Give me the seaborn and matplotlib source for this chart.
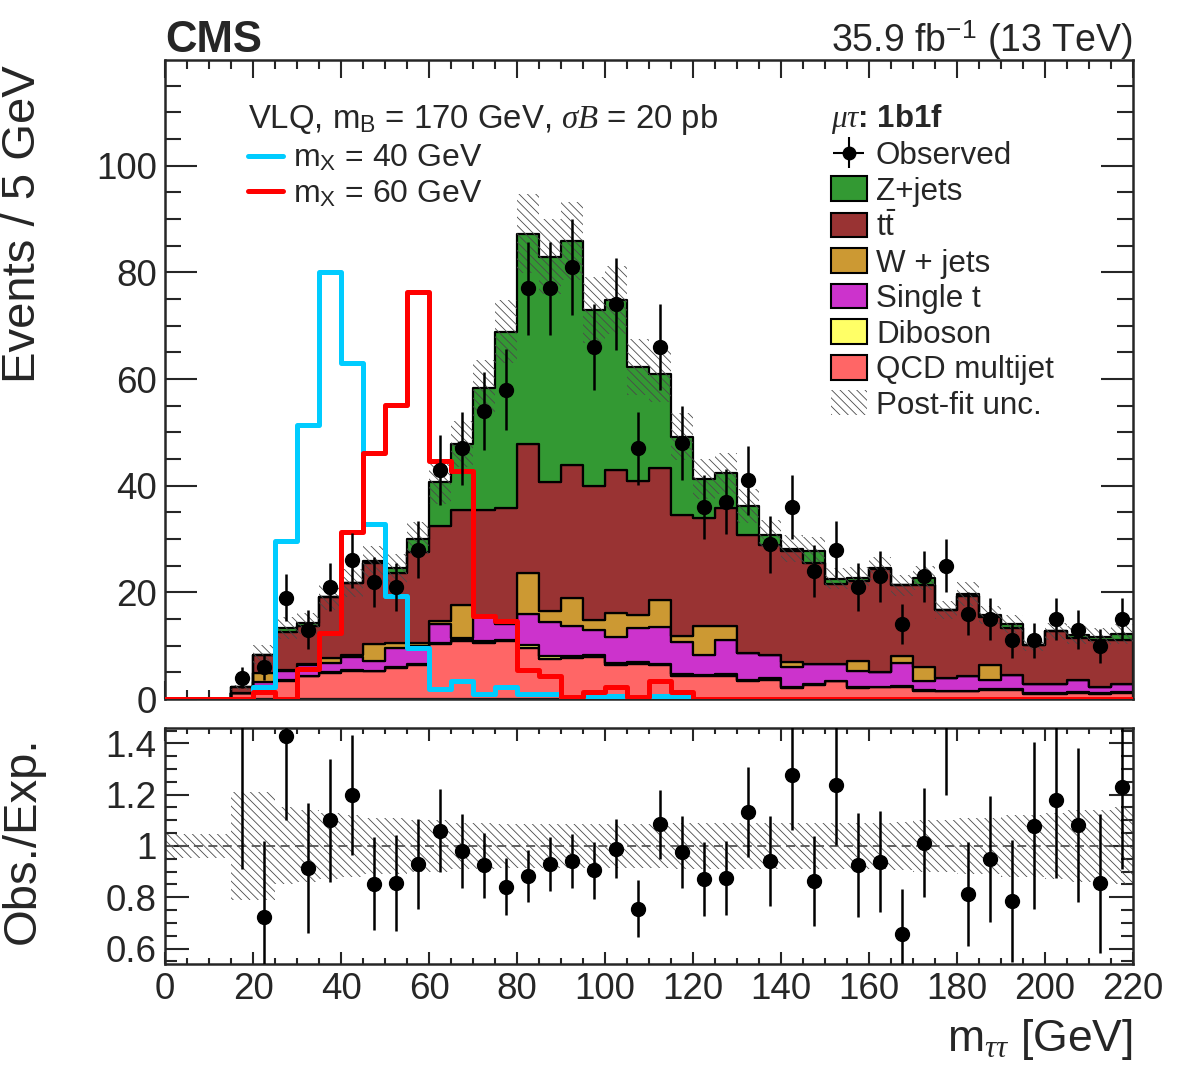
"""
CMS-style m_tautau distribution (mu-tau, 1b1f) with stacked backgrounds,
two VLQ signal hypotheses and an Obs./Exp. ratio panel.
"""

import numpy as np
import pandas as pd
import matplotlib
matplotlib.use("Agg")
import matplotlib.pyplot as plt
import seaborn as sns
from matplotlib.patches import Patch
from matplotlib.lines import Line2D
from matplotlib.ticker import MultipleLocator, FuncFormatter

# ---------------------------------------------------------------------------
# Data (44 bins of 5 GeV from 0 to 220 GeV)
# ---------------------------------------------------------------------------
bin_edges = list(range(0, 225, 5))

qcd = [0, 0, 0, 1.2, 2.4, 3.3, 4.3, 4.8, 5.3, 5.2, 5.8, 6.3, 10.3, 10.9, 10.6,
       10.8, 9.6, 7.6, 7.7, 7.9, 6.4, 6.6, 6.3, 4.3, 4.4, 4.4, 3.4, 3.5, 2.1,
       2.7, 3.3, 2.1, 2.2, 2.3, 1.6, 1.5, 1.5, 1.7, 1.7, 1.0, 1.0, 1.2, 1.0, 1.2]
diboson = [0, 0, 0, 0, 0.1, 0.3, 0.1, 0.2, 0.2, 0.1, 0.2, 0.2, 0.2, 0.2, 0.3,
           0.3, 0.5, 0.4, 0.3, 0.3, 0.4, 0.4, 0.3, 0.4, 0.2, 0.3, 0.2, 0.4, 0.1,
           0.1, 0.1, 0.1, 0.1, 0.1, 0.1, 0.0, 0.0, 0.1, 0.1, 0.1, 0.1, 0.1, 0.1, 0.1]
single_t = [0, 0, 0, 0, 0.7, 1.7, 1.9, 1.8, 2.3, 1.9, 3.5, 3.5, 3.5, 0.3, 4.5,
            2.9, 5.9, 6.5, 5.7, 4.7, 4.9, 6.3, 7.0, 6.0, 3.7, 6.3, 5.0, 4.3, 3.8,
            3.8, 3.1, 3.1, 2.8, 4.4, 1.6, 2.4, 2.8, 1.8, 2.7, 1.8, 1.7, 2.3, 1.2, 1.5]
wjets = [0, 0, 0, 0, 1.6, 0.2, 0.3, 0.9, 0.4, 3.1, 1.0, 0.5, 0.7, 6.3, 0.2,
         0.2, 7.6, 2.1, 5.3, 2.0, 4.4, 2.4, 5.0, 1.2, 5.4, 2.7, 0.1, 0.0, 0.9,
         0.0, 0.0, 1.9, 0.0, 1.2, 2.8, 0.0, 0.0, 2.7, 0.0, 0.0, 0.0, 0.0, 0.0, 0.0]
ttbar = [0, 0, 0, 1.0, 3.5, 7.1, 7.1, 11.4, 13.5, 15.3, 13.2, 17.0, 17.8, 17.7,
         19.9, 21.7, 24.3, 24.0, 24.8, 25.0, 26.9, 25.1, 24.8, 22.7, 20.2, 22.1,
         22.1, 20.6, 20.8, 19.0, 15.1, 15.0, 19.2, 13.3, 15.2, 12.8, 15.0, 9.0,
         8.9, 7.3, 9.9, 7.9, 8.7, 8.2]
zjets = [0, 0, 0, 0, 0, 0.7, 0.5, 0, 0, 0.2, 0.8, 2.6, 8.1, 12.5, 22.9, 33.0,
         39.3, 42.3, 42.1, 33.0, 31.8, 21.4, 17.5, 14.6, 7.4, 6.5, 5.4, 2.0, 0.5,
         2.2, 1.0, 0.5, 0.2, 0, 1.4, 0, 0.4, 0.5, 0.6, 0, 0, 0.5, 0.7, 1.2]

observed = [0, 0, 0, 4, 6, 19, 13, 21, 26, 22, 21, 28, 43, 47, 54, 58, 77, 77,
            81, 66, 74, 47, 66, 48, 36, 37, 41, 29, 36, 24, 28, 21, 23, 14, 23,
            25, 16, 15, 11, 11, 15, 13, 10, 15]

# relative post-fit uncertainty per bin
post_fit_unc = [0.045, 0.045, 0.045, 0.21, 0.21, 0.15, 0.14, 0.13, 0.12, 0.11,
                0.11, 0.10, 0.10, 0.09, 0.09, 0.085, 0.085, 0.085, 0.085, 0.085,
                0.085, 0.085, 0.085, 0.09, 0.09, 0.09, 0.09, 0.09, 0.09, 0.09,
                0.09, 0.09, 0.09, 0.095, 0.10, 0.10, 0.11, 0.11, 0.12, 0.12,
                0.13, 0.14, 0.14, 0.15]

signal_mx40 = [0, 0, 0, 0, 2.2, 29.6, 51.4, 80.0, 63.0, 32.9, 19.3, 9.5, 1.9,
               3.3, 0.9, 2.2, 1.0, 1.0, 0.3, 0.3, 0.5, 0.2, 0.5, 0.3] + [0] * 20
signal_mx60 = [0, 0, 0, 0, 1.3, 0, 5.7, 12.3, 31.3, 46.2, 55.2, 76.4, 44.6,
               42.7, 15.5, 14.6, 5.4, 4.4, 0.3, 1.3, 2.2, 0.3, 3.3, 1.3] + [0] * 20

# stack order: first entry ends up on top in seaborn's stacking
processes = ["Z+jets", "ttbar", "W + jets", "Single t", "Diboson", "QCD multijet"]
legend_labels = ["Z+jets", r"t$\bar{\mathrm{t}}$", "W + jets", "Single t",
                 "Diboson", "QCD multijet"]
colors = ["#339933", "#993333", "#cc9933", "#cc33cc", "#ffff66", "#ff6666"]

HATCH = "\\\\\\\\"
HATCH_COLOR = "#4a4a4a"


def style():
    sns.set_style("ticks", {"xtick.direction": "in", "ytick.direction": "in"})
    plt.rcParams["font.family"] = ["Liberation Sans", "DejaVu Sans"]
    plt.rcParams["mathtext.fontset"] = "custom"
    plt.rcParams["mathtext.rm"] = "Liberation Sans"
    plt.rcParams["mathtext.it"] = "Liberation Serif:italic"
    plt.rcParams["mathtext.bf"] = "Liberation Sans:bold"
    plt.rcParams["mathtext.sf"] = "Liberation Sans"
    plt.rcParams["hatch.linewidth"] = 0.6
    plt.rcParams["axes.linewidth"] = 1.8


def main():
    style()
    edges = np.array(bin_edges, dtype=float)
    centers = edges[:-1] + 2.5
    nb = len(centers)

    stack_values = [zjets, ttbar, wjets, single_t, diboson, qcd]
    df = pd.DataFrame({
        "mass": np.tile(centers, len(processes)),
        "events": np.concatenate(stack_values),
        "process": np.repeat(processes, nb),
    })
    total = np.sum(np.array(stack_values), axis=0)
    obs = np.array(observed, dtype=float)
    unc = np.array(post_fit_unc)

    fig = plt.figure(figsize=(11.82, 10.71), dpi=100)
    ax = fig.add_axes([0.1396, 0.3473, 0.819, 0.5966])
    axr = fig.add_axes([0.1396, 0.0999, 0.819, 0.2204])

    # stacked backgrounds
    sns.histplot(data=df, x="mass", weights="events", hue="process",
                 hue_order=processes, palette=dict(zip(processes, colors)),
                 bins=bin_edges, multiple="stack", element="step", fill=True,
                 alpha=1, edgecolor="black", linewidth=1.6, legend=False, ax=ax)

    # post-fit uncertainty band
    ax.stairs(total * (1 + unc), edges, baseline=total * (1 - unc),
              fill=True, facecolor="none", edgecolor=HATCH_COLOR,
              hatch=HATCH, linewidth=0, zorder=3)

    # signal hypotheses
    sns.histplot(x=centers, weights=signal_mx40, bins=bin_edges, element="step",
                 fill=False, color="#00ccff", linewidth=3.6, ax=ax, zorder=4)
    sns.histplot(x=centers, weights=signal_mx60, bins=bin_edges, element="step",
                 fill=False, color="#ff0000", linewidth=3.6, ax=ax, zorder=4)

    # observed data
    m = obs > 0
    ax.errorbar(centers[m], obs[m], yerr=np.sqrt(obs[m]), fmt="o",
                color="black", ms=10, elinewidth=1.8, capsize=0, zorder=5)

    # ratio panel
    ratio = obs[m] / total[m]
    ratio_err = np.sqrt(obs[m]) / total[m]
    axr.stairs(1 + unc, edges, baseline=1 - unc, fill=True,
               facecolor="none", edgecolor=HATCH_COLOR, hatch=HATCH,
               linewidth=0)
    axr.axhline(1, color="#555555", ls=(0, (5, 3)), lw=1.3)
    axr.errorbar(centers[m], ratio, yerr=ratio_err, fmt="o", color="black",
                 ms=10, elinewidth=1.8, capsize=0, zorder=5)

    # axes ranges, ticks, labels
    ax.set_xlim(0, 220)
    ax.set_ylim(0, 119.8)
    axr.set_xlim(0, 220)
    axr.set_ylim(0.54, 1.46)

    for a in (ax, axr):
        a.xaxis.set_major_locator(MultipleLocator(20))
        a.xaxis.set_minor_locator(MultipleLocator(5))
        a.tick_params(which="both", direction="in", top=True, right=True,
                      labelsize=26.5, width=1.5, pad=6)
    ax.yaxis.set_major_locator(MultipleLocator(20))
    ax.yaxis.set_minor_locator(MultipleLocator(5))
    axr.yaxis.set_major_locator(MultipleLocator(0.2))
    axr.yaxis.set_minor_locator(MultipleLocator(0.05))
    axr.yaxis.set_major_formatter(FuncFormatter(lambda v, p: f"{v:g}"))

    ax.tick_params(axis="y", which="major", length=23)
    ax.tick_params(axis="y", which="minor", length=11.5)
    ax.tick_params(axis="x", which="major", length=13)
    ax.tick_params(axis="x", which="minor", length=6.5)
    ax.tick_params(axis="x", labelbottom=False)
    axr.tick_params(axis="y", which="major", length=17)
    axr.tick_params(axis="y", which="minor", length=8.5)
    axr.tick_params(axis="x", which="major", length=9)
    axr.tick_params(axis="x", which="minor", length=4.5)

    ax.set_xlabel("")
    ax.set_ylabel("Events / 5 GeV", fontsize=34)
    ax.yaxis.set_label_coords(-0.124, 0.743)
    axr.set_ylabel("Obs./Exp.", fontsize=34)
    axr.yaxis.set_label_coords(-0.124, 0.525)
    axr.set_xlabel(r"m$_{\tau\tau}$ [GeV]", fontsize=32, loc="right")
    axr.xaxis.set_label_coords(1.0, -0.225)

    # header
    ax.text(0, 1.0125, "CMS", transform=ax.transAxes, fontsize=31.5,
            fontweight="bold", va="baseline", ha="left")
    ax.text(1, 1.0125, r"35.9 fb$^{-1}$ (13 TeV)", transform=ax.transAxes,
            fontsize=27, va="baseline", ha="right")

    # signal legend with its header line
    ax.text(0.0857, 0.9076,
            r"VLQ, m$_\mathrm{B}$ = 170 GeV, $\sigma B$ = 20 pb",
            transform=ax.transAxes, fontsize=23.7, ha="left", va="center")
    sig_handles = [Line2D([], [], color="#00ccff", lw=3.6),
                   Line2D([], [], color="#ff0000", lw=3.6)]
    leg1 = ax.legend(sig_handles, [r"m$_\mathrm{X}$ = 40 GeV",
                                   r"m$_\mathrm{X}$ = 60 GeV"],
                     fontsize=23, loc="upper left",
                     bbox_to_anchor=(0.0857, 0.8697), frameon=False,
                     handlelength=1.1, handletextpad=0.3, labelspacing=0.15,
                     borderpad=0, borderaxespad=0)
    ax.add_artist(leg1)

    # background legend
    obs_handle = ax.errorbar([np.nan], [np.nan], xerr=[1], yerr=[1], fmt="o",
                             color="black", ms=9, elinewidth=1.5)
    bkg_handles = [Patch(facecolor=c, edgecolor="black", linewidth=1.5)
                   for c in colors]
    unc_handle = Patch(facecolor="none", edgecolor=HATCH_COLOR, hatch=HATCH,
                       linewidth=0)
    ax.legend([obs_handle] + bkg_handles + [unc_handle],
              ["Observed"] + legend_labels + ["Post-fit unc."],
              title=r"$\mu\tau$: 1b1f",
              title_fontproperties={"weight": "bold", "size": 22.5},
              fontsize=22.6, loc="upper left", bbox_to_anchor=(0.688, 0.935),
              frameon=False, handlelength=1.13, handleheight=0.83,
              handletextpad=0.3, labelspacing=0.17, borderpad=0,
              borderaxespad=0, alignment="left")

    fig.savefig("out.png", dpi=100)


if __name__ == "__main__":
    main()
